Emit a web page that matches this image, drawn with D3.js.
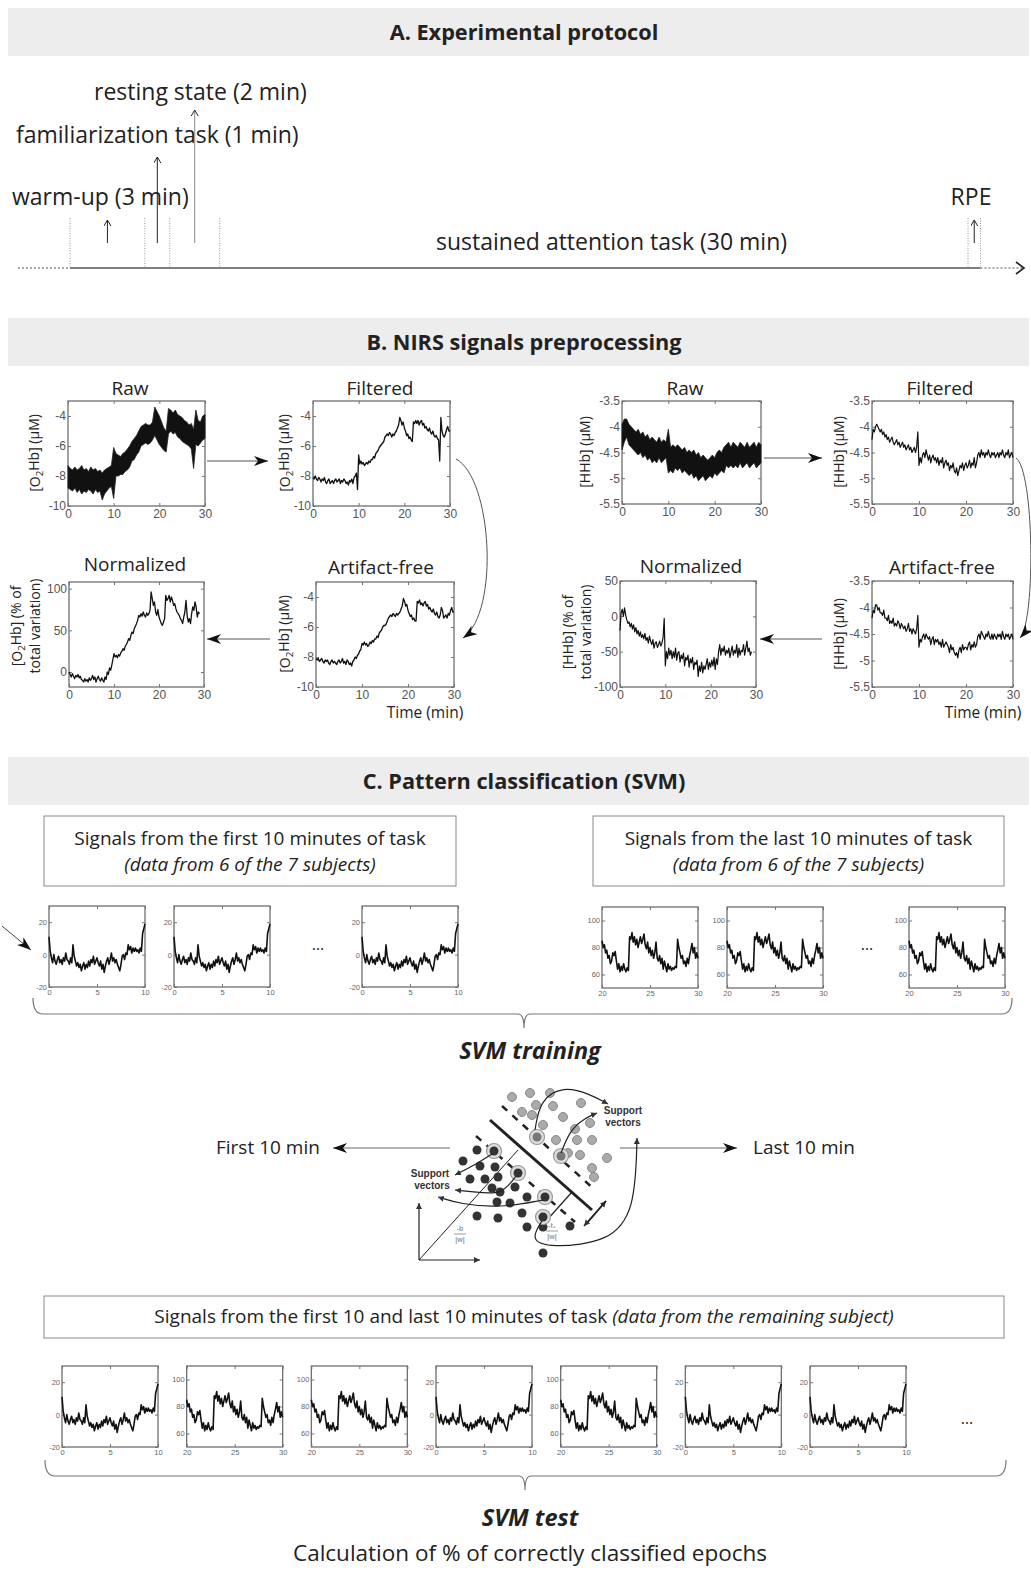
<!DOCTYPE html>
<html>
<head>
<meta charset="utf-8">
<script src="https://cdn.jsdelivr.net/npm/d3@7"></script>
<style>
body { margin: 0; background: #fff; }
svg text { font-family: "Open Sans", Lato, sans-serif; fill: #222; }
.tk text { font-family: "Liberation Sans", Arial, sans-serif; fill: #555; }
</style>
</head>
<body>
<div id="fig"></div>
<script>
// ---- protocol (minutes) ----
const phases = [
  { label: "warm-up (3 min)", start: 0, dur: 3 },
  { label: "familiarization task (1 min)", start: 3, dur: 1 },
  { label: "resting state (2 min)", start: 4, dur: 2 },
  { label: "sustained attention task (30 min)", start: 6, dur: 30 },
  { label: "RPE", start: 36, dur: 0.5 }
];

// ---- NIRS signals, O2Hb ----
// raw envelope, every 0.5 min from 0 to 30
const o2hbRawHi = [-7.3,-7.5,-7.6,-7.4,-7.6,-7.5,-7.3,-7.6,-7.5,-7.7,-7.4,-7.6,-7.5,-7.7,-7.6,-7.8,-7.6,-7.5,-7.4,-7.3,
  -6.1,-6.5,-6.6,-6.7,-6.5,-6.4,-6.2,-6.0,-5.7,-5.5,-5.3,-5.0,-4.7,-4.6,-4.5,-4.6,-4.6,-4.4,-3.4,-3.7,
  -4.0,-4.4,-4.8,-5.0,-3.5,-3.6,-3.8,-3.6,-3.9,-4.0,-4.1,-4.3,-4.4,-4.6,-4.5,-4.9,-3.6,-4.3,-4.4,-4.0,-3.9];
const o2hbRawLo = [-8.8,-8.9,-9.0,-8.8,-9.1,-8.9,-9.2,-9.0,-9.1,-8.9,-9.0,-9.2,-8.9,-9.1,-9.0,-9.6,-9.2,-9.0,-8.8,-8.7,
  -9.5,-8.0,-8.0,-7.9,-7.9,-7.7,-7.6,-7.4,-7.0,-6.9,-6.6,-6.4,-6.0,-5.9,-5.8,-5.9,-5.8,-5.6,-5.3,-5.6,
  -5.9,-6.1,-6.3,-6.4,-5.2,-5.0,-5.2,-5.1,-5.4,-5.5,-5.7,-5.8,-5.9,-6.0,-6.2,-7.5,-5.9,-6.0,-5.8,-5.6,-5.5];
// filtered and artifact-free, every 0.25 min from 0 to 30
const o2hbFiltered = [-8.1,-8.2,-8.0,-8.2, -8.3,-8.1,-8.2,-8.4, -8.2,-8.3,-8.1,-8.4, -8.5,-8.3,-8.2,-8.5,
  -8.4,-8.3,-8.5,-8.3, -8.2,-8.4,-8.3,-8.2, -8.5,-8.3,-8.4,-8.2, -8.3,-8.5,-8.4,-8.6, -8.3,-8.4,-8.2,-8.5,
  -8.1,-8.0,-7.8,-8.9, -6.6,-7.2,-7.0,-7.2, -7.1,-7.3,-7.2,-7.1, -7.2,-7.0,-7.1,-6.9, -6.9,-6.7,-6.8,-6.5,
  -6.4,-6.3,-6.1,-6.0, -5.9,-5.8,-5.7,-5.4, -5.3,-5.2,-5.3,-5.1, -5.2,-5.4,-5.2,-5.3, -5.1,-5.0,-4.8,-4.6,
  -4.1,-4.3,-4.6,-4.4, -4.8,-5.0,-5.3,-5.2, -5.5,-5.4,-5.6,-5.7, -4.4,-4.5,-4.3,-4.5, -4.3,-4.6,-4.4,-4.3,
  -4.6,-4.5,-4.8,-4.7, -4.9,-5.0,-4.8,-5.1, -5.2,-5.0,-5.3,-5.4, -5.3,-5.5,-5.6,-7.0, -4.1,-5.0,-5.3,-5.4,
  -5.2,-4.9,-4.7,-5.0, -5.0];
const o2hbClean = [-8.1,-8.2,-8.1,-8.3, -8.2,-8.1,-8.3,-8.4, -8.2,-8.3,-8.2,-8.4, -8.5,-8.3,-8.2,-8.4,
  -8.3,-8.4,-8.5,-8.3, -8.2,-8.4,-8.3,-8.1, -8.4,-8.3,-8.5,-8.2, -8.3,-8.5,-8.4,-8.6, -8.3,-8.2,-8.0,-8.1,
  -7.9,-7.8,-7.6,-7.5, -7.1,-7.2,-7.0,-7.2, -7.1,-7.3,-7.2,-7.0, -7.1,-6.9,-7.0,-6.8, -6.8,-6.6,-6.7,-6.4,
  -6.3,-6.2,-6.0,-5.9, -5.9,-5.8,-5.6,-5.4, -5.3,-5.2,-5.3,-5.1, -5.2,-5.3,-5.1,-5.2, -5.1,-5.0,-4.8,-4.6,
  -4.1,-4.3,-4.6,-4.5, -4.9,-5.1,-5.3,-5.2, -5.5,-5.4,-5.6,-5.6, -4.3,-4.4,-4.2,-4.5, -4.4,-4.6,-4.4,-4.3,
  -4.6,-4.5,-4.8,-4.7, -4.9,-5.0,-4.8,-5.1, -5.2,-5.0,-5.3,-5.4, -5.2,-4.7,-4.9,-5.4, -5.3,-5.2,-5.4,-5.1,
  -5.2,-4.9,-4.7,-5.0, -5.0];
// normalized (% of total variation), every 0.25 min from 0 to 29
const o2hbNorm = [0,-3,-6,-2, -5,-8,-4,-6, -3,-7,-5,-9, -10,-12,-8,-11, -9,-12,-7,-10, -8,-4,-9,-6,
  -12,-8,-5,-9, -11,-7,-10,-12, -6,-9,0,-3, 5,2,8,15, 22,18,20,17, 21,19,23,25, 28,26,31,33,
  36,40,38,44, 48,46,52,55, 58,62,68,66, 70,67,72,68, 66,71,68,70, 74,96,88,80, 84,72,68,75,
  66,62,58,56, 60,64,92,86, 88,92,84,90, 86,80,82,76, 72,70,68,64, 62,58,66,72, 86,68,60,64,
  58,70,78,74, 84,78,66,72, 70];

// ---- NIRS signals, HHb ----
const hhbRawHi = [-3.95,-3.85,-3.85,-3.95,-4.0,-4.05,-4.1,-4.05,-4.15,-4.1,-4.2,-4.15,-4.25,-4.2,-4.25,-4.3,-4.2,-4.3,-4.25,-4.3,
  -4.05,-4.4,-4.35,-4.4,-4.35,-4.4,-4.45,-4.4,-4.5,-4.45,-4.5,-4.45,-4.55,-4.5,-4.6,-4.55,-4.6,-4.65,-4.6,-4.55,
  -4.6,-4.5,-4.45,-4.5,-4.4,-4.35,-4.3,-4.4,-4.3,-4.35,-4.4,-4.3,-4.35,-4.4,-4.3,-4.4,-4.35,-4.3,-4.4,-4.3,-4.35];
const hhbRawLo = [-4.45,-4.3,-4.2,-4.35,-4.4,-4.45,-4.5,-4.55,-4.5,-4.6,-4.55,-4.65,-4.6,-4.7,-4.65,-4.7,-4.6,-4.7,-4.65,-4.6,
  -4.9,-4.85,-4.9,-4.8,-4.85,-4.8,-4.9,-4.85,-4.9,-4.95,-4.9,-5.0,-4.95,-5.05,-5.0,-4.95,-5.05,-5.0,-4.95,-5.0,
  -4.9,-4.95,-4.9,-4.85,-4.9,-4.75,-4.8,-4.75,-4.8,-4.75,-4.8,-4.7,-4.8,-4.75,-4.7,-4.8,-4.75,-4.7,-4.8,-4.75,-4.7];
const hhbFiltered = [-4.25,-4.05,-4.1,-4.0, -3.95,-4.0,-4.05,-4.1, -4.05,-4.15,-4.1,-4.2, -4.15,-4.25,-4.2,-4.3,
  -4.25,-4.2,-4.3,-4.35, -4.3,-4.25,-4.35,-4.3, -4.4,-4.35,-4.3,-4.4, -4.35,-4.45,-4.4,-4.35, -4.45,-4.4,-4.5,-4.45,
  -4.4,-4.5,-4.4,-4.1, -4.75,-4.6,-4.7,-4.55, -4.5,-4.6,-4.45,-4.55, -4.65,-4.55,-4.7,-4.6, -4.55,-4.65,-4.6,-4.7,
  -4.6,-4.75,-4.65,-4.7, -4.6,-4.8,-4.7,-4.65, -4.75,-4.7,-4.85,-4.75, -4.8,-4.7,-4.85,-4.9, -4.8,-4.95,-4.85,-4.75,
  -4.8,-4.7,-4.85,-4.75, -4.7,-4.8,-4.75,-4.65, -4.8,-4.7,-4.75,-4.6, -4.8,-4.7,-4.55,-4.5, -4.6,-4.45,-4.55,-4.5,
  -4.6,-4.5,-4.55,-4.45, -4.55,-4.6,-4.5,-4.55, -4.5,-4.6,-4.55,-4.5, -4.6,-4.5,-4.55,-4.45, -4.55,-4.6,-4.5,-4.55,
  -4.45,-4.6,-4.55,-4.5, -4.6];
const hhbClean = [-4.2,-4.05,-4.1,-3.95, -3.95,-4.05,-4.0,-4.1, -4.1,-4.15,-4.05,-4.2, -4.2,-4.25,-4.15,-4.3,
  -4.25,-4.3,-4.2,-4.35, -4.3,-4.35,-4.25,-4.3, -4.4,-4.3,-4.35,-4.4, -4.35,-4.45,-4.4,-4.3, -4.45,-4.4,-4.5,-4.4,
  -4.45,-4.5,-4.4,-4.15, -4.75,-4.6,-4.65,-4.55, -4.5,-4.6,-4.5,-4.55, -4.6,-4.55,-4.7,-4.6, -4.55,-4.7,-4.6,-4.65,
  -4.6,-4.7,-4.65,-4.75, -4.6,-4.75,-4.7,-4.65, -4.7,-4.75,-4.85,-4.7, -4.8,-4.75,-4.85,-4.9, -4.85,-4.95,-4.8,-4.75,
  -4.85,-4.7,-4.8,-4.75, -4.75,-4.8,-4.7,-4.65, -4.8,-4.7,-4.75,-4.65, -4.75,-4.7,-4.55,-4.5, -4.6,-4.45,-4.5,-4.55,
  -4.6,-4.5,-4.55,-4.45, -4.55,-4.6,-4.5,-4.6, -4.5,-4.55,-4.6,-4.5, -4.55,-4.5,-4.6,-4.45, -4.55,-4.6,-4.5,-4.55,
  -4.5,-4.6,-4.55,-4.5, -4.6];
const hhbNorm = [-20,5,10,0, 12,2,-5,-10, -8,-15,-10,-18, -12,-22,-16,-25, -20,-28,-22,-30, -26,-32,-24,-34,
  -30,-38,-28,-35, -40,-33,-45,-38, -36,-44,-40,-35, -42,-38,-30,-3, -70,-50,-60,-45, -55,-48,-60,-50,
  -58,-45,-62,-52, -50,-65,-55,-60, -52,-70,-58,-62, -55,-72,-60,-66, -58,-75,-65,-68, -62,-85,-70,-78,
  -65,-80,-70,-75, -68,-60,-75,-65, -72,-62,-70,-58, -75,-60,-68,-50, -40,-55,-45,-50, -42,-55,-48,-52,
  -45,-58,-50,-42, -55,-48,-52,-40, -58,-45,-55,-48, -50,-40,-55,-45, -35,-50,-45,-55, -50];

// ---- epochs used by the classifier, every 0.125 min ----
const epochFirst = [11,2,-2,-5,0,-4,-6,-3, -1,-5,-3,-6,-2,-4,1,-3, -4,-6,-2,-5,6,-1,-4,-7,
  -5,-8,-6,-10,-7,-5,-9,-6, -8,-4,-7,-3,-5,-1,-6,-4, -2,-5,-7,-4,-9,-6,-11,-7,
  -4,-2,-6,-3,1,-4,-2,-5, -3,-6,-8,-10,-6,-1,0,-3, 1,0,6,3,5,1,4,2, 4,2,3,1,4,2,13,16, 19];
const epochLast = [85,80,82,76,78,72,74,68, 70,76,74,77,70,64,68,62, 66,63,68,64,62,65,63,88,
  86,91,84,88,82,86,80,84, 88,83,86,90,82,79,84,76, 80,74,78,72,76,84,72,70,
  74,68,72,64,70,66,62,68, 64,66,63,65,64,66,65,86, 80,76,72,74,68,70,66,72, 68,74,78,83,76,80,72,76, 72];
const testOrder = ["first", "last", "last", "first", "last", "first", "first"];

// ---- tick labels ----
const timeTicks = [0, 10, 20, 30];
const o2Ticks = [-10, -8, -6, -4];
const hhbTicks = [-5.5, -5, -4.5, -4, -3.5];
const normO2Ticks = [0, 50, 100];
const normHHbTicks = [-100, -50, 0, 50];
const firstXTicks = [0, 5, 10], firstYTicks = [-20, 0, 20];
const lastXTicks = [20, 25, 30], lastYTicks = [60, 80, 100];

// ---- SVM sketch points (sketch units) ----
const svmLight = [[122,17],[140,13],[160,13],[146,25],[163,26],[132,32],[142,35],[191,23],[173,37],[153,45],
  [185,49],[200,43],[166,60],[187,60],[202,60],[178,73],[190,75],[217,78],[202,88],[204,97]];
const svmLightSV = [[147,57],[171,76]];
const svmDark = [[87,70],[73,81],[90,86],[105,87],[80,99],[95,99],[108,97],[102,108],[110,112],[125,107],
  [107,122],[120,123],[137,117],[87,136],[108,138],[132,133],[137,147],[153,147],[180,146],[153,173]];
const svmDarkSV = [[104,71],[128,93],[155,117],[153,137]];

const W = 1031, H = 1571;
let svg = d3.select("#fig").append("svg")
    .attr("width", W).attr("height", H);

let defs = svg.append("defs");
defs.append("marker").attr("id", "head")
    .attr("markerUnits", "userSpaceOnUse").attr("markerWidth", 16).attr("markerHeight", 12)
    .attr("refX", 14).attr("refY", 5).attr("orient", "auto")
    .append("path").attr("d", "M0,0 L14,5 L0,10 L4,5 Z").attr("fill", "#111");
defs.append("marker").attr("id", "chev")
    .attr("markerUnits", "userSpaceOnUse").attr("markerWidth", 10).attr("markerHeight", 10)
    .attr("refX", 6).attr("refY", 3.5).attr("orient", "auto")
    .append("path").attr("d", "M0,0 L6,3.5 L0,7").attr("fill", "none").attr("stroke", "#222").attr("stroke-width", 1);
defs.append("marker").attr("id", "small")
    .attr("markerUnits", "userSpaceOnUse").attr("markerWidth", 8).attr("markerHeight", 8)
    .attr("refX", 6).attr("refY", 3).attr("orient", "auto")
    .append("path").attr("d", "M0,0 L6,3 L0,6 Z").attr("fill", "#333");

// section headers
function header(y, label) {
    svg.append("rect").attr("x", 8).attr("y", y).attr("width", 1021).attr("height", 48).attr("fill", "#ededed");
    svg.append("text").attr("x", 524).attr("y", y + 32).attr("text-anchor", "middle")
        .style("font-size", "21.7px").style("font-weight", "bold").text(label);
}
header(8, "A. Experimental protocol");
header(318, "B. NIRS signals preprocessing");
header(757, "C. Pattern classification (SVM)");

// ================= A. protocol timeline =================
let tx = d3.scaleLinear().domain([0, 36]).range([70, 968]);
let baseY = 268;
svg.append("line").attr("x1", 18).attr("x2", tx(0)).attr("y1", baseY).attr("y2", baseY)
    .attr("stroke", "#555").attr("stroke-dasharray", "2,2");
svg.append("line").attr("x1", tx(0)).attr("x2", tx(36.5)).attr("y1", baseY).attr("y2", baseY)
    .attr("stroke", "#555").attr("stroke-width", 1.4);
svg.append("line").attr("x1", tx(36.5)).attr("x2", 1022).attr("y1", baseY).attr("y2", baseY)
    .attr("stroke", "#555").attr("stroke-dasharray", "2,2");
svg.append("path").attr("d", `M1016,${baseY - 6} L1024,${baseY} L1016,${baseY + 6}`)
    .attr("fill", "none").attr("stroke", "#222").attr("stroke-width", 1.6);

// boundaries of every phase
let bounds = [];
phases.forEach(p => { bounds.push(p.start); bounds.push(p.start + p.dur); });
bounds = Array.from(new Set(bounds));
svg.selectAll("line.bound").data(bounds).enter().append("line")
    .attr("class", "bound")
    .attr("x1", d => tx(d)).attr("x2", d => tx(d))
    .attr("y1", 218).attr("y2", baseY)
    .attr("stroke", "#999").attr("stroke-dasharray", "1,1.5");

// arrows and labels
let arrowTop = [220, 157, 110, null, 220];
let labelPos = [[12, 205, "start"], [16, 143, "start"], [94, 100, "start"], [436, 250, "start"], [971, 205, "middle"]];
phases.forEach((p, i) => {
    let mx = tx(p.start + p.dur / 2);
    if (arrowTop[i] !== null) {
        svg.append("line").attr("x1", mx).attr("x2", mx).attr("y1", 243).attr("y2", arrowTop[i])
            .attr("stroke", i === 2 ? "#888" : "#222").attr("stroke-width", 1)
            .attr("marker-end", "url(#chev)");
    }
    svg.append("text").attr("x", labelPos[i][0]).attr("y", labelPos[i][1])
        .attr("text-anchor", labelPos[i][2])
        .style("font-size", "23px").text(p.label);
});

// ================= B. preprocessing panels =================
function panel(px, py, w, h, xDom, yDom, xTicks, yTicks, fs) {
    let x = d3.scaleLinear().domain(xDom).range([px, px + w]);
    let y = d3.scaleLinear().domain(yDom).range([py + h, py]);
    let g = svg.append("g").attr("class", "tk");
    let fmt = d => String(d);
    g.append("g").attr("transform", `translate(0,${py + h})`)
        .call(d3.axisBottom(x).tickValues(xTicks).tickSize(-3).tickPadding(3).tickFormat(fmt));
    g.append("g").attr("transform", `translate(0,${py})`)
        .call(d3.axisTop(x).tickValues(xTicks).tickSize(-3).tickFormat(""));
    g.append("g").attr("transform", `translate(${px},0)`)
        .call(d3.axisLeft(y).tickValues(yTicks).tickSize(-3).tickPadding(2).tickFormat(fmt));
    g.append("g").attr("transform", `translate(${px + w},0)`)
        .call(d3.axisRight(y).tickValues(yTicks).tickSize(-3).tickFormat(""));
    g.selectAll(".domain").remove();
    g.selectAll(".tick line").attr("stroke", "#777");
    g.selectAll(".tick text").style("font-size", fs + "px");
    g.append("rect").attr("x", px).attr("y", py).attr("width", w).attr("height", h)
        .attr("fill", "none").attr("stroke", "#6f6f6f").attr("stroke-width", 1.3);
    return { x, y, g };
}

function trace(p, values, t0, step, sw) {
    let line = d3.line().x((d, i) => p.x(t0 + i * step)).y(d => p.y(d));
    svg.append("path").datum(values).attr("d", line)
        .attr("fill", "none").attr("stroke", "#111").attr("stroke-width", sw)
        .attr("stroke-linejoin", "round");
}

function band(p, lo, hi, t0, step) {
    let area = d3.area().x((d, i) => p.x(t0 + i * step)).y0((d, i) => p.y(lo[i])).y1(d => p.y(d));
    svg.append("path").datum(hi).attr("d", area)
        .attr("fill", "#111").attr("stroke", "#222").attr("stroke-width", 0.8);
}

function title(x, y, s) {
    svg.append("text").attr("x", x).attr("y", y).attr("text-anchor", "middle")
        .style("font-size", "19px").text(s);
}

function ylab(x, y, pre, sub, post, size) {
    let t = svg.append("text").attr("transform", `translate(${x},${y}) rotate(-90)`)
        .attr("text-anchor", "middle").style("font-size", size + "px");
    t.append("tspan").text(pre);
    if (sub) {
        t.append("tspan").attr("dy", "0.3em").style("font-size", (size * 0.7) + "px").text(sub);
        t.append("tspan").attr("dy", "-0.3em").text(post);
    }
}

// O2Hb
let pR = panel(68, 401, 137, 105, [0, 30], [-10, -3], timeTicks, o2Ticks, 12);
band(pR, o2hbRawLo, o2hbRawHi, 0, 0.5);
title(130, 395, "Raw");
ylab(40, 453, "[O", "2", "Hb] (\u03bcM)", 14);

let pF = panel(313, 401, 137, 105, [0, 30], [-10, -3], timeTicks, o2Ticks, 12);
trace(pF, o2hbFiltered, 0, 0.25, 1.3);
title(380, 395, "Filtered");
ylab(290, 453, "[O", "2", "Hb] (\u03bcM)", 14);

let pN = panel(69, 582, 135, 105, [0, 30], [-18, 108], timeTicks, normO2Ticks, 12);
trace(pN, o2hbNorm, 0, 0.25, 1.3);
title(135, 571, "Normalized");
ylab(22, 626, "[O", "2", "Hb] (% of", 14);
ylab(40, 626, "total variation)", null, null, 14);

let pA = panel(316, 582, 138, 105, [0, 30], [-10, -3], timeTicks, o2Ticks, 12);
trace(pA, o2hbClean, 0, 0.25, 1.3);
title(381, 574, "Artifact-free");
ylab(290, 634, "[O", "2", "Hb] (\u03bcM)", 14);
svg.append("text").attr("x", 425).attr("y", 718).attr("text-anchor", "middle").style("font-size", "15.5px").text("Time (min)");

// HHb
let hR = panel(622, 401, 139, 103, [0, 30], [-5.5, -3.5], timeTicks, hhbTicks, 12);
band(hR, hhbRawLo, hhbRawHi, 0, 0.5);
title(685, 395, "Raw");
ylab(590, 452, "[HHb] (\u03bcM)", null, null, 14);

let hF = panel(872, 401, 141, 103, [0, 30], [-5.5, -3.5], timeTicks, hhbTicks, 12);
trace(hF, hhbFiltered, 0, 0.25, 1.2);
title(940, 395, "Filtered");
ylab(844, 452, "[HHb] (\u03bcM)", null, null, 14);

let hN = panel(620, 581, 136, 106, [0, 30], [-100, 50], timeTicks, normHHbTicks, 12);
trace(hN, hhbNorm, 0, 0.25, 1.2);
title(691, 573, "Normalized");
ylab(573, 632, "[HHb] (% of", null, null, 14);
ylab(591, 632, "total variation)", null, null, 14);

let hA = panel(872, 581, 141, 106, [0, 30], [-5.5, -3.5], timeTicks, hhbTicks, 12);
trace(hA, hhbClean, 0, 0.25, 1.2);
title(942, 574, "Artifact-free");
ylab(844, 634, "[HHb] (\u03bcM)", null, null, 14);
svg.append("text").attr("x", 983).attr("y", 718).attr("text-anchor", "middle").style("font-size", "15.5px").text("Time (min)");

// flow arrows
function arrow(d, sw, col, mk) {
    svg.append("path").attr("d", d).attr("fill", "none")
        .attr("stroke", col || "#555").attr("stroke-width", sw)
        .attr("marker-end", `url(#${mk || "head"})`);
}
arrow("M207,461 L268,461", 1.2);
arrow("M270,639 L207,639", 1.2);
arrow("M456,459 C492,478 500,612 463,638", 1);
arrow("M764,458 L822,458", 1.2);
arrow("M822,639 L760,639", 1.2);
arrow("M1016,458 C1034,470 1036,620 1020,638", 1);

// ================= C. classification =================
function textBox(x, y, w, h, lines) {
    svg.append("rect").attr("x", x).attr("y", y).attr("width", w).attr("height", h)
        .attr("fill", "none").attr("stroke", "#888");
    lines.forEach((l, i) => {
        svg.append("text").attr("x", x + w / 2).attr("y", y + 29 + i * 26).attr("text-anchor", "middle")
            .style("font-size", "19px").style("font-style", i ? "italic" : "normal").text(l);
    });
}
textBox(44, 816, 412, 70, ["Signals from the first 10 minutes of task", "(data from 6 of the 7 subjects)"]);
textBox(593, 816, 411, 70, ["Signals from the last 10 minutes of task", "(data from 6 of the 7 subjects)"]);

function epoch(px, py, kind) {
    let p;
    if (kind === "first") {
        p = panel(px, py, 96, 81, [0, 10], [-20, 30], firstXTicks, firstYTicks, 7.5);
        trace(p, epochFirst, 0, 0.125, 1.6);
    } else {
        p = panel(px, py, 96, 81, [20, 30], [50, 110], lastXTicks, lastYTicks, 7.5);
        trace(p, epochLast, 20, 0.125, 1.6);
    }
    p.g.selectAll(".tick text").style("fill", "#666");
}
epoch(49, 906, "first");
epoch(174, 906, "first");
epoch(362, 906, "first");
epoch(602, 907, "last");
epoch(727, 907, "last");
epoch(909, 907, "last");
svg.append("text").attr("x", 318).attr("y", 950).attr("text-anchor", "middle").style("font-size", "16px").text("\u2026");
svg.append("text").attr("x", 867).attr("y", 950).attr("text-anchor", "middle").style("font-size", "16px").text("\u2026");
arrow("M2,926 L31,950", 1, "#444");

function brace(x0, x1, xm, y, up, dip) {
    return `M${x0},${y - up} Q${x0},${y} ${x0 + 10},${y} L${xm - 6},${y} Q${xm},${y} ${xm},${y + dip}` +
        ` Q${xm},${y} ${xm + 6},${y} L${x1 - 10},${y} Q${x1},${y} ${x1},${y - up}`;
}
svg.append("path").attr("d", brace(33, 1012, 524, 1014, 16, 14))
    .attr("fill", "none").attr("stroke", "#777").attr("stroke-width", 1.2);

svg.append("text").attr("x", 530).attr("y", 1059).attr("text-anchor", "middle")
    .style("font-size", "23.5px").style("font-weight", "bold").style("font-style", "italic").text("SVM training");

// SVM sketch
let sx = d3.scaleLinear().domain([0, 270]).range([390, 660]);
let sy = d3.scaleLinear().domain([0, 190]).range([1080, 1270]);
svg.append("text").attr("x", 216).attr("y", 1154).style("font-size", "19px").text("First 10 min");
svg.append("text").attr("x", 753).attr("y", 1154).style("font-size", "19px").text("Last 10 min");
arrow(`M${sx(60)},1148 L333,1148`, 1, "#666");
arrow(`M${sx(230)},1148 L737,1148`, 1, "#666");

let sk = svg.append("g");
function sline(pts, sw, dash, mk, col) {
    let l = d3.line().x(d => sx(d[0])).y(d => sy(d[1])).curve(d3.curveBasis);
    let p = sk.append("path").datum(pts).attr("d", l).attr("fill", "none")
        .attr("stroke", col || "#222").attr("stroke-width", sw);
    if (dash) p.attr("stroke-dasharray", dash);
    if (mk) p.attr("marker-end", `url(#${mk})`);
}
// axes and margin lines
sline([[29, 180], [29, 123]], 1.2, null, "small");
sline([[29, 180], [90, 180]], 1.2, null, "small");
sline([[29, 180], [128, 70]], 1);
sline([[100, 40], [202, 130]], 3);
sline([[112, 26], [205, 110]], 2.5, "7,7");
sline([[86, 56], [185, 142]], 2.5, "7,7");
sline([[157, 140], [182, 112]], 1.2);
sline([[198, 142], [216, 121]], 1.5, null, "small");
sline([[216, 121], [194, 146]], 1.5, null, "small");
// points
sk.selectAll("circle.l").data(svmLight).enter().append("circle").attr("class", "l")
    .attr("cx", d => sx(d[0])).attr("cy", d => sy(d[1])).attr("r", 4.5)
    .attr("fill", "#aaa").attr("stroke", "#8a8a8a");
sk.selectAll("circle.d").data(svmDark).enter().append("circle").attr("class", "d")
    .attr("cx", d => sx(d[0])).attr("cy", d => sy(d[1])).attr("r", 4.5).attr("fill", "#333");
sk.selectAll("circle.ring").data(svmLightSV.concat(svmDarkSV)).enter().append("circle").attr("class", "ring")
    .attr("cx", d => sx(d[0])).attr("cy", d => sy(d[1])).attr("r", 7.5)
    .attr("fill", "#ddd").attr("stroke", "#999").attr("stroke-width", 1.2);
sk.selectAll("circle.lsv").data(svmLightSV).enter().append("circle").attr("class", "lsv")
    .attr("cx", d => sx(d[0])).attr("cy", d => sy(d[1])).attr("r", 4.5).attr("fill", "#777");
sk.selectAll("circle.dsv").data(svmDarkSV).enter().append("circle").attr("class", "dsv")
    .attr("cx", d => sx(d[0])).attr("cy", d => sy(d[1])).attr("r", 4.5).attr("fill", "#333");
// support vector pointers
sline([[145, 50], [150, 20], [173, 6], [200, 14], [218, 24]], 1.2, null, "small");
sline([[171, 73], [180, 50], [195, 38], [207, 33]], 1.2, null, "small");
sline([[152, 141], [140, 160], [160, 168], [220, 162], [245, 130], [247, 58]], 1.2, null, "small");
sline([[102, 74], [85, 85], [65, 95]], 1.2, null, "small");
sline([[126, 96], [112, 115], [85, 112], [65, 110]], 1.2, null, "small");
sline([[153, 120], [110, 128], [70, 124], [48, 117]], 1.2, null, "small");
// labels
[["Support", 233, 34], ["vectors", 233, 46], ["Support", 40, 97], ["vectors", 42, 109]].forEach(d => {
    sk.append("text").attr("x", sx(d[1])).attr("y", sy(d[2])).attr("text-anchor", "middle")
        .style("font-family", "'Liberation Sans', Arial, sans-serif")
        .style("font-size", "10px").style("font-weight", "bold").style("fill", "#333").text(d[0]);
});
[["-b", 70, 151], ["|w|", 70, 162], ["-t\u2081", 162, 148], ["|w|", 162, 159]].forEach(d => {
    sk.append("text").attr("x", sx(d[1])).attr("y", sy(d[2])).attr("text-anchor", "middle")
        .style("font-family", "'Liberation Sans', Arial, sans-serif")
        .style("font-size", "7px").style("font-weight", "bold").style("fill", "#999").text(d[0]);
});
sk.append("line").attr("x1", sx(64)).attr("x2", sx(76)).attr("y1", sy(154)).attr("y2", sy(154)).attr("stroke", "#999");
sk.append("line").attr("x1", sx(156)).attr("x2", sx(168)).attr("y1", sy(151)).attr("y2", sy(151)).attr("stroke", "#999");

// test set
svg.append("rect").attr("x", 44).attr("y", 1296).attr("width", 960).attr("height", 42)
    .attr("fill", "none").attr("stroke", "#888");
let tt = svg.append("text").attr("x", 524).attr("y", 1323).attr("text-anchor", "middle").style("font-size", "19px");
tt.append("tspan").text("Signals from the first 10 and last 10 minutes of task ");
tt.append("tspan").style("font-style", "italic").text("(data from the remaining subject)");

let testX = d3.scaleLinear().domain([0, testOrder.length - 1]).range([62, 810]);
testOrder.forEach((k, i) => epoch(testX(i), 1366, k));
svg.append("text").attr("x", 967).attr("y", 1424).attr("text-anchor", "middle").style("font-size", "16px").text("\u2026");

svg.append("path").attr("d", brace(45, 1006, 525, 1476, 16, 14))
    .attr("fill", "none").attr("stroke", "#777").attr("stroke-width", 1.2);

svg.append("text").attr("x", 530).attr("y", 1526).attr("text-anchor", "middle")
    .style("font-size", "23.5px").style("font-weight", "bold").style("font-style", "italic").text("SVM test");
svg.append("text").attr("x", 530).attr("y", 1561).attr("text-anchor", "middle")
    .style("font-size", "22.5px").text("Calculation of % of correctly classified epochs");
</script>
</body>
</html>
